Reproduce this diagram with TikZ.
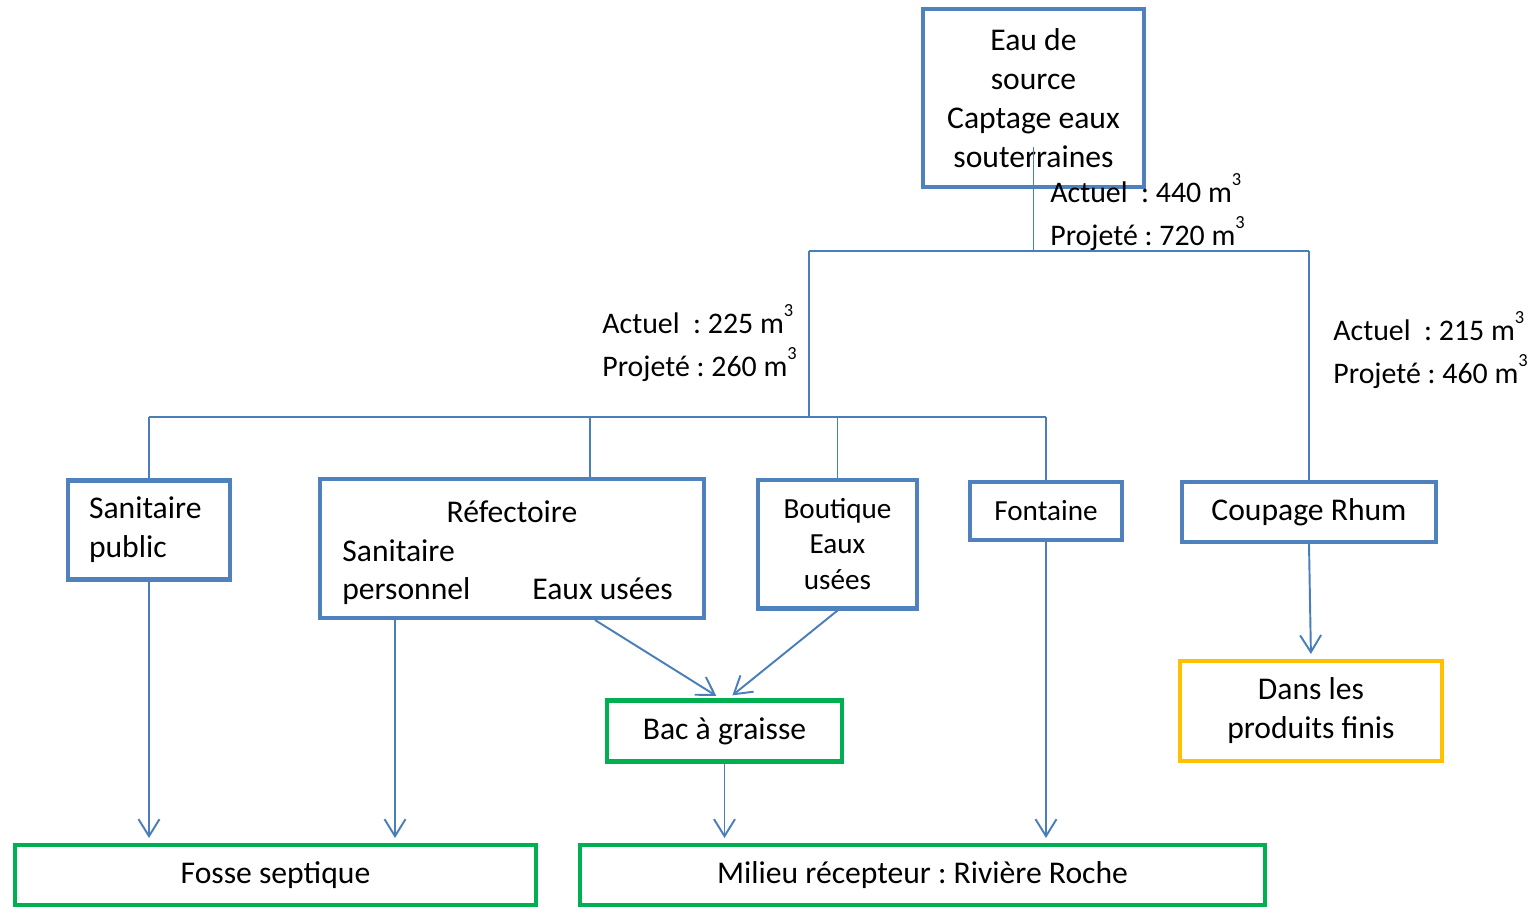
\documentclass[tikz,border=0pt]{standalone}
\usepackage{fontspec}
\setmainfont{Carlito}
\usetikzlibrary{positioning,arrows.meta,calc}
\definecolor{boxblue}{HTML}{4F81BD}
\definecolor{linkblue}{HTML}{4A7EBB}
\definecolor{boxgreen}{HTML}{00B050}
\definecolor{boxyellow}{HTML}{FFC000}
\frenchspacing
\newcommand{\mcube}{\raisebox{9.5pt}{\fontsize{10.5}{10.5}\selectfont 3}}
\tikzset{
  box/.style={draw=boxblue, line width=2.3pt, inner sep=0pt, align=center, font=\fontsize{18}{22.2}\selectfont},
  outbox/.style={box, draw=boxgreen},
  prodbox/.style={box, draw=boxyellow},
  smallbox/.style={box, font=\fontsize{16.6}{20.3}\selectfont},
  txt/.style={inner sep=0pt, anchor=base west, font=\fontsize{18}{22.2}\selectfont},
  vol/.style={inner sep=0pt, anchor=base west, font=\fontsize{17}{20}\selectfont},
  link/.style={draw=linkblue, line width=1.1pt},
  flow/.style={link, -{Straight Barb[length=0.34cm,width=0.42cm]}, shorten >=0.1cm},
}

\begin{document}
\begin{tikzpicture}[x=0.02cm,y=-0.02cm]
\useasboundingbox (0,0) rectangle (1529,907);

% source
\node[box, minimum width=4.42cm, minimum height=3.56cm] (eau) at (1033.5,98) {Eau de\\source\\Captage eaux\\souterraines};

% consumers
\node[box, minimum width=3.24cm, minimum height=1.98cm, text width=2.4cm, align=left] (sanpub) at (149,530) {Sanitaire\\public};
\node[box, minimum width=7.68cm, minimum height=2.78cm] (refect) at (512,548.5) {};
\node[txt, anchor=base] (refttl) at (512,522) {Réfectoire};
\node[txt] (refsan) at (342,561) {Sanitaire};
\node[txt] (refpers) at (342,599) {personnel};
\node[txt] (refeaux) at (532,599) {Eaux usées};
\node[smallbox, minimum width=3.18cm, minimum height=2.58cm] (boutique) at (837.5,544) {Boutique\\Eaux\\usées};
\node[smallbox, minimum width=3.04cm, minimum height=1.16cm] (fontaine) at (1046,511) {Fontaine};
\node[box, minimum width=5.08cm, minimum height=1.2cm] (coupage) at (1309,512) {Coupage Rhum};

% treatment and outlets
\node[outbox, minimum width=4.7cm, minimum height=1.22cm] (bac) at (724.5,731) {Bac à graisse};
\node[prodbox, minimum width=5.24cm, minimum height=2cm] (dans) at (1311,711) {Dans les\\produits finis};
\node[outbox, minimum width=10.42cm, minimum height=1.2cm] (fosse) at (275.5,875) {Fosse septique};
\node[outbox, minimum width=13.7cm, minimum height=1.2cm] (milieu) at (922.5,875) {Milieu récepteur : Rivière Roche};

% volumes
\node[vol] (volA1) at (1050,202) {Actuel~ : 440 m\mcube};
\node[vol] (volA2) at (1050,245) {Projeté : 720 m\mcube};
\node[vol] (volB1) at (602,333) {Actuel~ : 225 m\mcube};
\node[vol] (volB2) at (602,376) {Projeté : 260 m\mcube};
\node[vol] (volC1) at (1333,340) {Actuel~ : 215 m\mcube};
\node[vol] (volC2) at (1333,383) {Projeté : 460 m\mcube};

% distribution tree
\coordinate (eaudrop) at ($(eau.south)+(0,-42)$);
\coordinate (jtop) at (1033,251);
\coordinate (jmid) at (809,417);
\coordinate (refdrop) at ($(refect.north)+(78,0)$);
\draw[link] (eaudrop) -- (eaudrop |- jtop);
\draw[link] (jmid |- jtop) -- (coupage.north |- jtop);
\draw[link] (jmid |- jtop) -- (jmid);
\draw[link] (coupage.north |- jtop) -- (coupage.north);
\draw[link] (sanpub.north |- jmid) -- (fontaine.north |- jmid);
\draw[link] (sanpub.north |- jmid) -- (sanpub.north);
\draw[link] (refdrop |- jmid) -- (refdrop);
\draw[link] (boutique.north |- jmid) -- (boutique.north);
\draw[link] (fontaine.north |- jmid) -- (fontaine.north);

% waste water
\coordinate (refout) at ($(refect.south west)+(77,0)$);
\draw[flow] (sanpub.south) -- (sanpub.south |- fosse.north);
\draw[flow] (refout) -- (refout |- fosse.north);
\draw[flow] ($(refect.south)+(83,0)$) -- ($(bac.north)+(-4,0)$);
\draw[flow] (boutique.south) -- ($(bac.north)+(4,0)$);
\draw[flow] (bac.south) -- (bac.south |- milieu.north);
\draw[flow] (fontaine.south) -- (fontaine.south |- milieu.north);
\draw[flow] (coupage.south) -- (dans.north);
\end{tikzpicture}
\end{document}
